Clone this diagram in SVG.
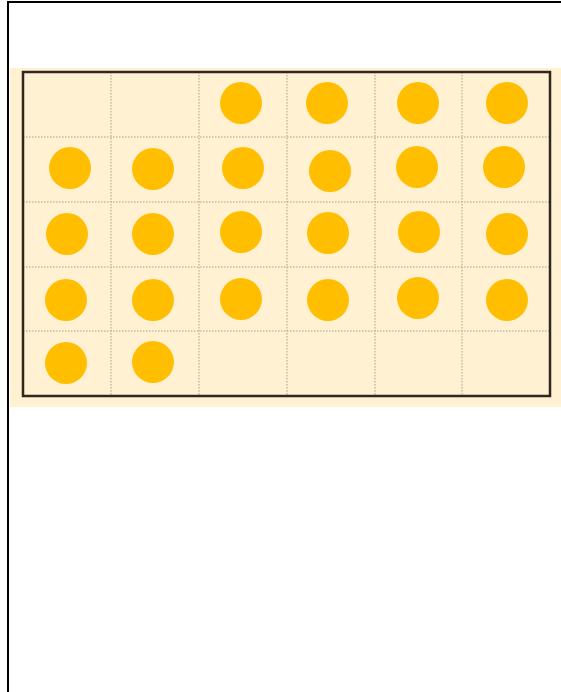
<svg xmlns="http://www.w3.org/2000/svg" width="561" height="692" viewBox="0 0 561 692">
<style>
.dot{fill:#FFBF00}
.grid{stroke:#a89f8c;stroke-width:1;stroke-dasharray:1.5,1.5;fill:none}
</style>
<rect x="0" y="0" width="561" height="692" fill="#ffffff"/>
<path d="M8,692 V2 H561" fill="none" stroke="#000" stroke-width="2"/>
<rect x="10" y="68" width="551" height="339" fill="#FFF1D2"/>
<g id="grid">
<line class="grid" x1="111" y1="72" x2="111" y2="396"/>
<line class="grid" x1="199" y1="72" x2="199" y2="396"/>
<line class="grid" x1="287" y1="72" x2="287" y2="396"/>
<line class="grid" x1="375" y1="72" x2="375" y2="396"/>
<line class="grid" x1="462" y1="72" x2="462" y2="396"/>
<line class="grid" x1="23" y1="137" x2="550" y2="137"/>
<line class="grid" x1="23" y1="202" x2="550" y2="202"/>
<line class="grid" x1="23" y1="267" x2="550" y2="267"/>
<line class="grid" x1="23" y1="331" x2="550" y2="331"/>
<rect x="23" y="72" width="527" height="324" fill="none" stroke="#2e281f" stroke-width="2.5"/>
</g>
<g id="dots">
<circle class="dot" cx="241" cy="103" r="21"/>
<circle class="dot" cx="327" cy="103" r="21"/>
<circle class="dot" cx="418" cy="103" r="21"/>
<circle class="dot" cx="507" cy="103" r="21"/>
<circle class="dot" cx="70" cy="168" r="21"/>
<circle class="dot" cx="153" cy="169" r="21"/>
<circle class="dot" cx="243" cy="168" r="21"/>
<circle class="dot" cx="330" cy="171" r="21"/>
<circle class="dot" cx="417" cy="167" r="21"/>
<circle class="dot" cx="504" cy="167" r="21"/>
<circle class="dot" cx="67" cy="234" r="21"/>
<circle class="dot" cx="153" cy="234" r="21"/>
<circle class="dot" cx="241" cy="232" r="21"/>
<circle class="dot" cx="328" cy="233" r="21"/>
<circle class="dot" cx="419" cy="232" r="21"/>
<circle class="dot" cx="507" cy="234" r="21"/>
<circle class="dot" cx="66" cy="300" r="21"/>
<circle class="dot" cx="153" cy="300" r="21"/>
<circle class="dot" cx="241" cy="299" r="21"/>
<circle class="dot" cx="328" cy="300" r="21"/>
<circle class="dot" cx="418" cy="298" r="21"/>
<circle class="dot" cx="507" cy="300" r="21"/>
<circle class="dot" cx="66" cy="363" r="21"/>
<circle class="dot" cx="153" cy="362" r="21"/>
</g>
</svg>
